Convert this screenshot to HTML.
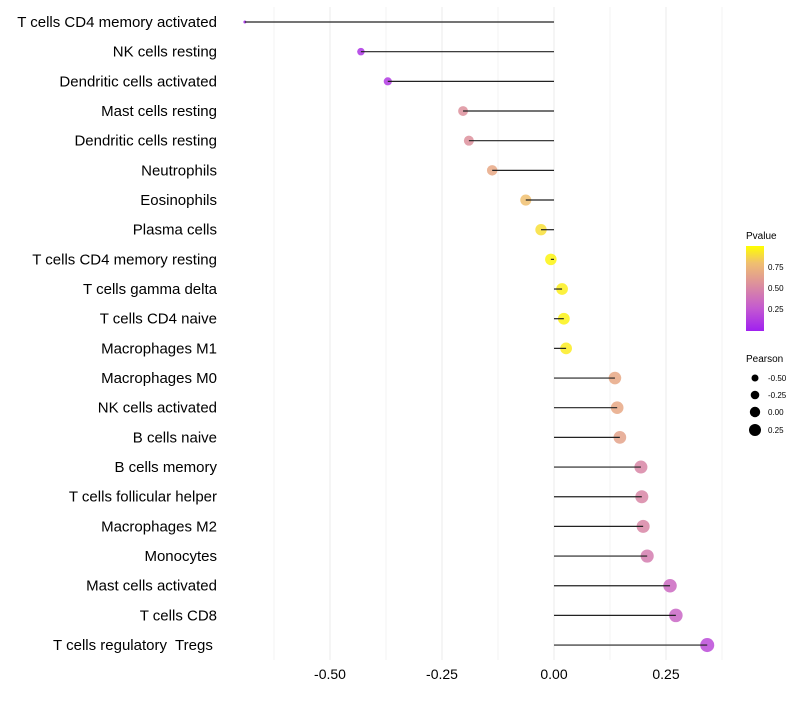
<!DOCTYPE html>
<html><head><meta charset="utf-8"><style>
body{margin:0;background:#fff;font-family:"Liberation Sans",sans-serif}
svg text{font-family:"Liberation Sans",sans-serif;white-space:pre}
</style></head><body>
<svg id="chart" width="800" height="700" xmlns="http://www.w3.org/2000/svg">
<g id="grid"></g>
<g id="ylabels"></g>
<g id="marks"></g>
<g id="xticks"></g>
<g>
<text x="746" y="239" font-size="10" fill="#000">Pvalue</text>
<defs><linearGradient id="pg" x1="0" y1="1" x2="0" y2="0">
<stop offset="0" stop-color="#a020f0"/><stop offset="0.27" stop-color="#c45ad0"/><stop offset="0.53" stop-color="#db8ca0"/><stop offset="0.8" stop-color="#f0bf70"/><stop offset="1" stop-color="#ffff00"/></linearGradient></defs>
<rect x="746" y="246" width="18" height="85" fill="url(#pg)"/>
<text x="768" y="270" font-size="8">0.75</text><text x="768" y="291" font-size="8">0.50</text><text x="768" y="312" font-size="8">0.25</text>
</g>
<g>
<text x="746" y="362" font-size="10">Pearson</text>
<circle cx="755" cy="378" r="3.5"/><text x="768" y="381" font-size="8">-0.50</text>
<circle cx="755" cy="395" r="4.3"/><text x="768" y="398" font-size="8">-0.25</text>
<circle cx="755" cy="412" r="5.2"/><text x="768" y="415" font-size="8">0.00</text>
<circle cx="755" cy="430" r="6"/><text x="768" y="433" font-size="8">0.25</text>
</g>
</svg>
<script>
const categories=["T cells CD4 memory activated","NK cells resting","Dendritic cells activated","Mast cells resting","Dendritic cells resting","Neutrophils","Eosinophils","Plasma cells","T cells CD4 memory resting","T cells gamma delta","T cells CD4 naive","Macrophages M1","Macrophages M0","NK cells activated","B cells naive","B cells memory","T cells follicular helper","Macrophages M2","Monocytes","Mast cells activated","T cells CD8","T cells regulatory  Tregs "];
const pearson=[-0.69,-0.431,-0.371,-0.203,-0.19,-0.138,-0.063,-0.029,-0.007,0.018,0.022,0.027,0.136,0.141,0.147,0.194,0.196,0.199,0.208,0.259,0.272,0.342];
const pvalues=[0.03,0.1,0.12,0.55,0.55,0.68,0.8,0.9,0.97,0.95,0.96,0.94,0.68,0.68,0.65,0.5,0.5,0.5,0.45,0.35,0.33,0.2];
const xTicks=[-0.5,-0.25,0,0.25];
const xTickLabels=["-0.50","-0.25","0.00","0.25"];
const NS="http://www.w3.org/2000/svg";
const x=v=>554+v*448;
const y=i=>22+i*29.67;
const stops=[[0,[160,32,240]],[0.27,[196,90,208]],[0.53,[219,140,160]],[0.8,[240,191,112]],[1,[255,255,0]]];
function col(p){for(let k=1;k<stops.length;k++){if(p<=stops[k][0]){const a=stops[k-1],b=stops[k],t=(p-a[0])/(b[0]-a[0]);return "rgb("+a[1].map((c,j)=>Math.round(c+(b[1][j]-c)*t)).join(",")+")";}}return "rgb(255,255,0)";}
const rad=v=>Math.sqrt(Math.max(1,33.6+45.4*v));
function mk(tag,attrs,parent){const e=document.createElementNS(NS,tag);for(const k in attrs)e.setAttribute(k,attrs[k]);document.getElementById(parent).appendChild(e);return e;}
for(let g=-0.625;g<=0.375;g+=0.125){const l=mk("line",{x1:x(g),x2:x(g),y1:7,y2:660,stroke:"#ebebeb","stroke-width":(Math.abs(g*4-Math.round(g*4))<1e-6)?1:0.6},"grid");

}
xTicks.forEach((t,i)=>{const e=mk("text",{x:x(t),y:679,"font-size":14,"text-anchor":"middle",fill:"#000"},"xticks");e.textContent=xTickLabels[i];

});
categories.forEach((c,i)=>{const t=mk("text",{x:217,y:y(i)+5,"font-size":15,"text-anchor":"end",fill:"#000"},"ylabels");t.textContent=c;


const dot=mk("circle",{cx:x(pearson[i]),cy:y(i),r:rad(pearson[i]),fill:col(pvalues[i]),"fill-opacity":0.85},"marks");


const ln=mk("line",{x1:x(0),x2:x(pearson[i]),y1:y(i),y2:y(i),stroke:"#222","stroke-width":1.2},"marks");

});
</script>
</body></html>
